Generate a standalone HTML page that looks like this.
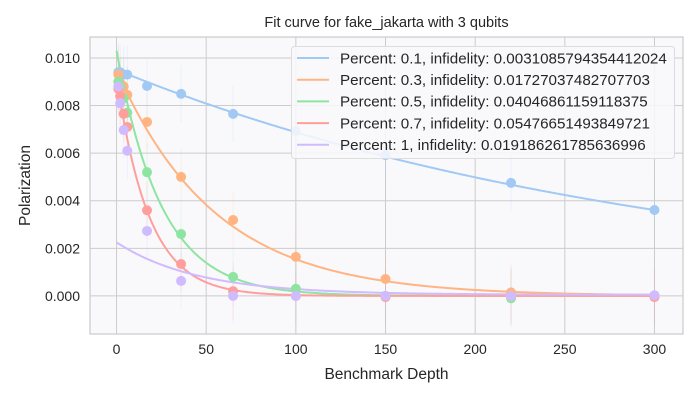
<!DOCTYPE html>
<html><head><meta charset="utf-8"><style>
body{margin:0;background:#fff;font-family:"Liberation Sans",sans-serif}
</style></head><body>
<svg id="chart" width="700" height="400" xmlns="http://www.w3.org/2000/svg" font-family="Liberation Sans, sans-serif"></svg>
<script>
const depths=[1,2,4,6,17,36,65,100,150,220,300];
const seriesNames=["Percent: 0.1, infidelity: 0.0031085794354412024","Percent: 0.3, infidelity: 0.01727037482707703","Percent: 0.5, infidelity: 0.04046861159118375","Percent: 0.7, infidelity: 0.05476651493849721","Percent: 1, infidelity: 0.019186261785636996"];
const blueVals=[0.0094,0.0094,0.0093,0.0093,0.00882,0.00849,0.00765,0.00693,0.00592,0.00475,0.00361];
const orangeVals=[0.0093,0.00895,0.0088,0.00845,0.00731,0.0050,0.00319,0.00164,0.00071,0.00015,-0.00003];
const greenVals=[0.0090,0.0088,0.0083,0.0077,0.0052,0.0026,0.0008,0.0003,0.0,-0.0001,0.0];
const redVals=[0.0087,0.0084,0.00765,0.0071,0.0036,0.00134,0.0002,0.0,-0.00005,0.0,-0.00005];
const purpleVals=[0.0088,0.0081,0.00697,0.0061,0.00273,0.00063,0.0,0.0,0.0,0.0,0.00003];
// fit params: amplitude, decay length, offset
const fitA=[0.0095,0.0095,0.0103,0.0092,0.0022];
const fitL=[310,55,25,18,45];
const fitB=[0,0,0,0,0.00005];
const xTicks=[0,50,100,150,200,250,300];
const yTicks=[0,0.002,0.004,0.006,0.008,0.010];
const colors=["#a1c9f4","#ffb482","#8de5a1","#ff9f9b","#d0bbff"];
const allVals=[blueVals,orangeVals,greenVals,redVals,purpleVals];

const L=90,R=683,T=37,B=334;
const xMin=-14.8,xMax=315.9,yMin=-0.0016,yMax=0.01088;
const sx=v=>L+(v-xMin)/(xMax-xMin)*(R-L);
const sy=v=>B-(v-yMin)/(yMax-yMin)*(B-T);
const svg=document.getElementById('chart');
const NS="http://www.w3.org/2000/svg";
function mk(tag,attrs,parent){const e=document.createElementNS(NS,tag);for(const k in attrs)e.setAttribute(k,attrs[k]);(parent||svg).appendChild(e);return e;}

const bg=mk('rect',{x:L,y:T,width:R-L,height:B-T,fill:'#f9f9fc'});


xTicks.forEach(t=>{
  const g=mk('line',{x1:sx(t),x2:sx(t),y1:T,y2:B,stroke:'#cccccc','stroke-width':1});
  
  
  const tx=mk('text',{x:sx(t),y:B+20,'font-size':14,'text-anchor':'middle',fill:'#262626'});
  tx.textContent=t;
  
  
});
yTicks.forEach(t=>{
  const g=mk('line',{x1:L,x2:R,y1:sy(t),y2:sy(t),stroke:'#cccccc','stroke-width':1});
  
  
  const tx=mk('text',{x:L-10,y:sy(t)+5,'font-size':14,'text-anchor':'end',fill:'#262626'});
  tx.textContent=t.toFixed(3);
  
  
});
const border=mk('rect',{x:L,y:T,width:R-L,height:B-T,fill:'none',stroke:'#cccccc','stroke-width':1.25});



const err=0.0012;
allVals.forEach((vals,si)=>{
  vals.forEach((v,i)=>{
    const e=mk('line',{x1:sx(depths[i]),x2:sx(depths[i]),y1:sy(v-err),y2:sy(v+err),stroke:colors[si],'stroke-width':1,opacity:0.18});
    
    
  });
});
allVals.forEach((vals,si)=>{
  let d='';
  for(let x=0;x<=300;x+=1){const y=fitA[si]*Math.exp(-x/fitL[si])+fitB[si];d+=(x?'L':'M')+sx(x).toFixed(2)+','+sy(y).toFixed(2);}
  const p=mk('path',{d:d,fill:'none',stroke:colors[si],'stroke-width':2});
  
  
});
allVals.forEach((vals,si)=>{
  vals.forEach((v,i)=>{
    const c=mk('circle',{cx:sx(depths[i]),cy:sy(v),r:5,fill:colors[si]});
    
    
  });
});

const lg=mk('rect',{x:291.5,y:46.5,width:383,height:112,rx:3,fill:'#f9f9fc','fill-opacity':0.85,stroke:'#dddddd'});


seriesNames.forEach((n,i)=>{
  const y=58+i*21.7;
  const l=mk('line',{x1:297,x2:329,y1:y,y2:y,stroke:colors[i],'stroke-width':2});
  
  
  const t=mk('text',{x:340,y:y+5.3,'font-size':15.2,fill:'#262626'});
  t.textContent=n;
  
  
});

const title=mk('text',{x:(L+R)/2,y:27,'font-size':14.5,'text-anchor':'middle',fill:'#262626'});
title.textContent='Fit curve for fake_jakarta with 3 qubits';


const xl=mk('text',{x:(L+R)/2,y:379,'font-size':15.5,'text-anchor':'middle',fill:'#262626'});
xl.textContent='Benchmark Depth';


const yl=mk('text',{x:0,y:0,'font-size':15.5,'text-anchor':'middle',fill:'#262626',transform:'translate(30,'+((T+B)/2)+') rotate(-90)'});
yl.textContent='Polarization';


</script>
</body></html>
